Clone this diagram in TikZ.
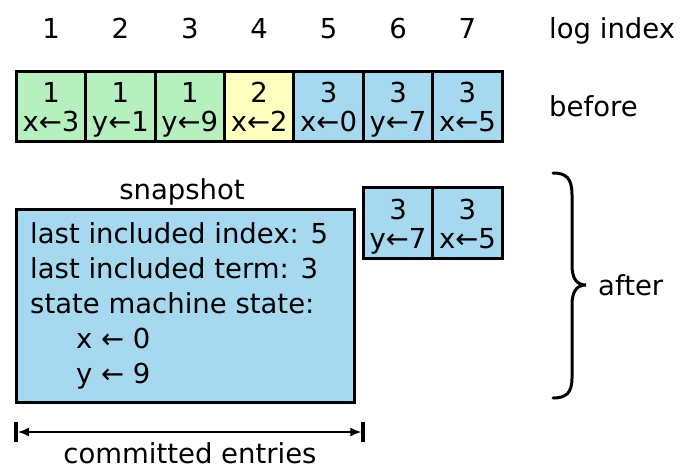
\documentclass[tikz,border=0pt]{standalone}
\usepackage{fontspec}
\setmainfont{DejaVu Sans}
\usetikzlibrary{arrows.meta}
\definecolor{cgreen}{RGB}{182,240,190}
\definecolor{cyellow}{RGB}{255,255,192}
\definecolor{cblue}{RGB}{166,216,240}
\tikzset{
  cellbox/.style={draw=black,line width=3pt,minimum width=69.4pt,minimum height=70pt,inner sep=0pt,outer sep=0pt},
  txt/.style={anchor=base,inner sep=0pt,font=\fontsize{27.5}{33}\selectfont},
  txtw/.style={anchor=base west,inner sep=0pt,font=\fontsize{27.5}{33}\selectfont},
}
\newcommand\logcell[5]{%
  \node[cellbox,fill=#3] (#1) at (#2) {};
  \node[txt] (#1t) at ([yshift=-31pt]#1.north) {#4};
  \node[txt] (#1c) at ([yshift=-60pt]#1.north) {#5};
}
\begin{document}
\begin{tikzpicture}[x=1pt,y=-1pt]
\useasboundingbox (0,0) rectangle (684,470);
% before row
\logcell{b1}{51,107}{cgreen}{1}{x←3}
\logcell{b2}{120.4,107}{cgreen}{1}{y←1}
\logcell{b3}{189.8,107}{cgreen}{1}{y←9}
\logcell{b4}{259.2,107}{cyellow}{2}{x←2}
\logcell{b5}{328.6,107}{cblue}{3}{x←0}
\logcell{b6}{398,107}{cblue}{3}{y←7}
\logcell{b7}{467.4,107}{cblue}{3}{x←5}
% indices
\foreach \i in {1,...,7} {
  \node[txt] (i\i) at ([yshift=33pt]b\i.north) {\i};
}
\node[txtw] (logidx) at (549,39) {log index};
\node[txtw] (before) at (549,117) {before};
% after row
\logcell{a6}{398,223}{cblue}{3}{y←7}
\logcell{a7}{467.4,223}{cblue}{3}{x←5}
% snapshot
\node[draw=black,line width=3pt,fill=cblue,minimum width=338pt,minimum height=193pt,inner sep=0pt,outer sep=0pt] (snap) at (185,305.5) {};
\node[txt] (snaplabel) at (182,200) {snapshot};
\node[txtw] (s1) at (30,243) {last included index: 5};
\node[txtw] (s2) at (30,278) {last included term: 3};
\node[txtw] (s3) at (30,313) {state machine state:};
\node[txtw] (s4) at (76,348) {x ← 0};
\node[txtw] (s5) at (76,383) {y ← 9};
% brace
\draw[line width=3pt,line cap=round] (553,173) .. controls (566,173) and (572,178) .. (572,195)
  -- (572,265) .. controls (572,279) and (577,285) .. (586,285)
  .. controls (577,285) and (572,291) .. (572,305)
  -- (572,378) .. controls (572,393) and (566,398) .. (553,398);
\node[txtw] (after) at (598,295) {after};
% committed entries
\coordinate (cl) at (snap.west |- 0,432);
\coordinate (cr) at (a6.west |- 0,432);
\draw[line width=4pt] ([yshift=10pt]cl) -- ([yshift=-10pt]cl);
\draw[line width=4pt] ([yshift=10pt]cr) -- ([yshift=-10pt]cr);
\draw[line width=1.5pt,{Latex[length=11pt,width=9pt]}-{Latex[length=11pt,width=9pt]}] ([xshift=2pt]cl) -- ([xshift=-2pt]cr);
\node[txt] (committed) at (190,463) {committed entries};
\end{tikzpicture}
\end{document}
